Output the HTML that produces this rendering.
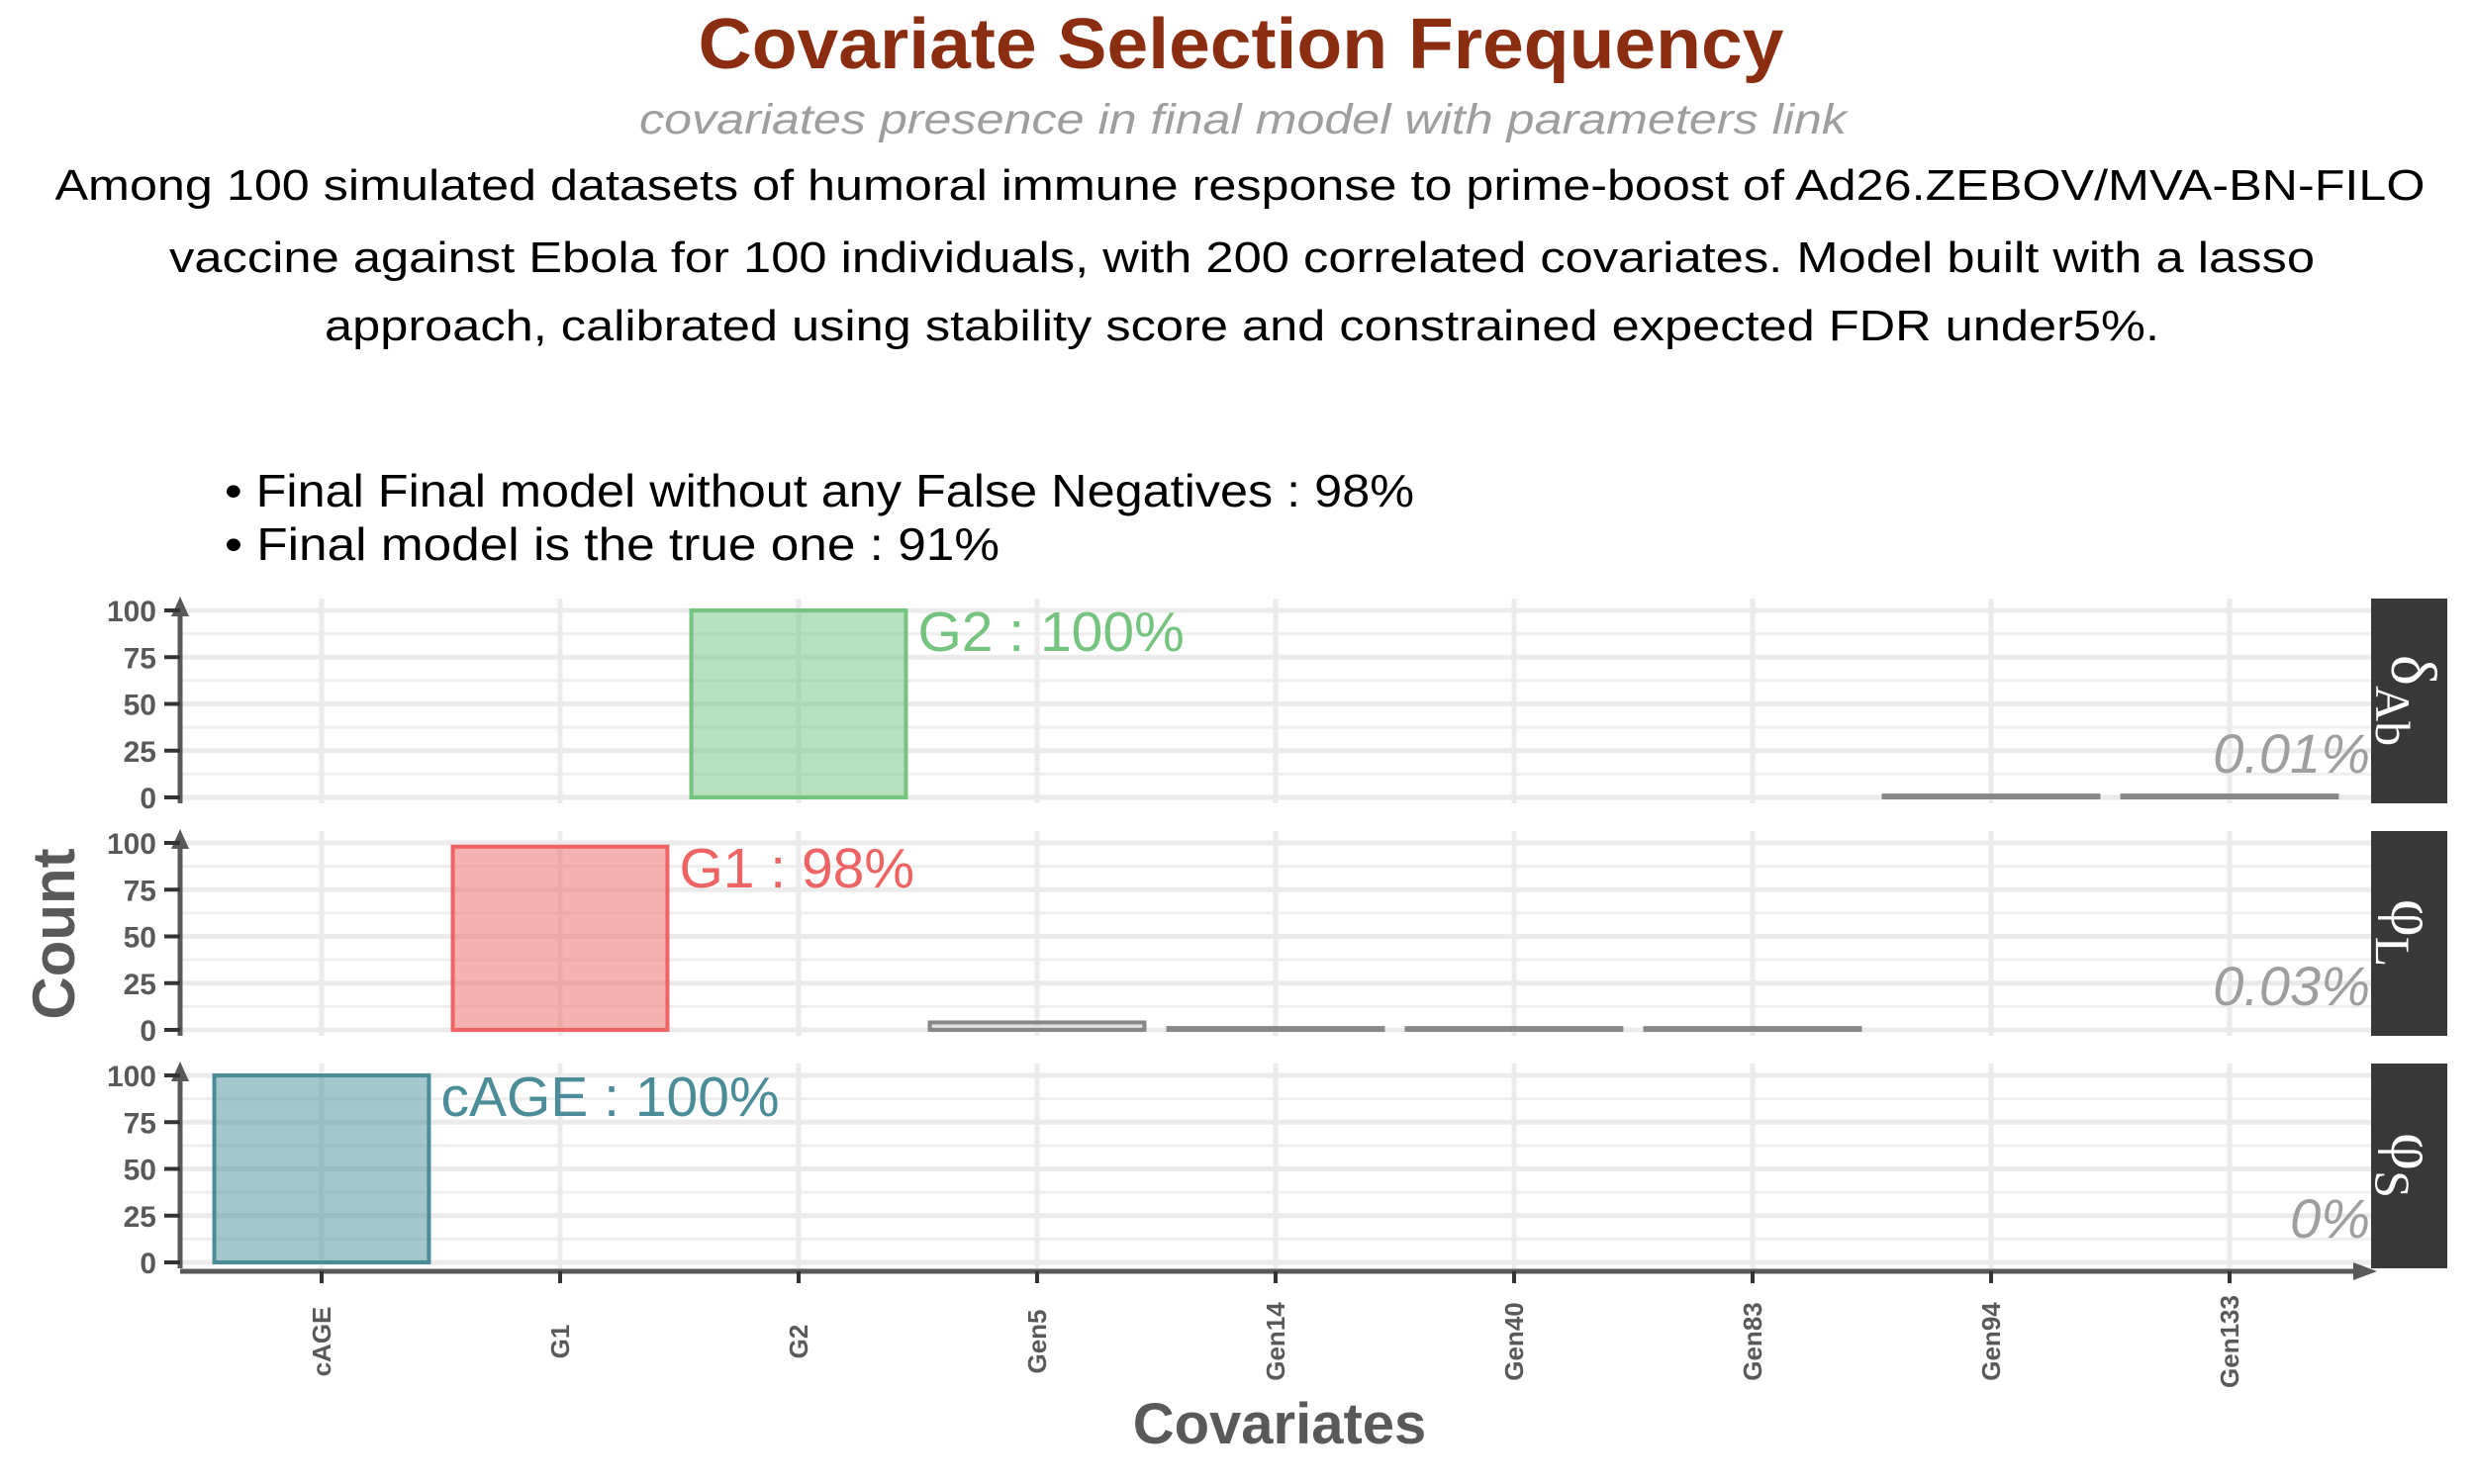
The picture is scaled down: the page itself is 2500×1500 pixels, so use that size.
<!DOCTYPE html>
<html><head><meta charset="utf-8"><style>
html,body{margin:0;padding:0;background:#fff;}
svg{display:block;}
</style></head><body>
<svg id="chart" width="2500" height="1500" viewBox="0 0 2500 1500" xmlns="http://www.w3.org/2000/svg" font-family="'Liberation Sans', Arial, sans-serif">
<rect width="2500" height="1500" fill="#fff"/>
<text x="1254" y="69" text-anchor="middle" font-size="72" font-weight="bold" fill="#8b2d10" textLength="1097" lengthAdjust="spacingAndGlyphs">Covariate Selection Frequency</text>
<text x="1256" y="135" text-anchor="middle" font-size="43" font-style="italic" fill="#9e9e9e" textLength="1220" lengthAdjust="spacingAndGlyphs">covariates presence in final model with parameters link</text>
<g font-size="44" fill="#000" text-anchor="middle">
<text x="1253" y="202" textLength="2395" lengthAdjust="spacingAndGlyphs">Among 100 simulated datasets of humoral immune response to prime-boost of Ad26.ZEBOV/MVA-BN-FILO</text>
<text x="1255" y="275" textLength="2168" lengthAdjust="spacingAndGlyphs">vaccine against Ebola for 100 individuals, with 200 correlated covariates. Model built with a lasso</text>
<text x="1255" y="344" textLength="1854" lengthAdjust="spacingAndGlyphs">approach, calibrated using stability score and constrained expected FDR under5%.</text>
</g>
<g font-size="46" fill="#000">
<text x="227" y="512" textLength="1202" lengthAdjust="spacingAndGlyphs">• Final Final model without any False Negatives : 98%</text>
<text x="227" y="566" textLength="783" lengthAdjust="spacingAndGlyphs">• Final model is the true one  : 91%</text>
</g>
<g id="plot"></g>
<text transform="translate(75,944) rotate(-90)" text-anchor="middle" font-size="60" font-weight="bold" fill="#595959">Count</text>
<text x="1293" y="1459" text-anchor="middle" font-size="58" font-weight="bold" fill="#595959">Covariates</text>
</svg>
<script>
const categories = ["cAGE","G1","G2","Gen5","Gen14","Gen40","Gen83","Gen94","Gen133"];
const panelNames = ["δAb","φL","φS"];
const panelSymbols = ["δ","φ","φ"];
const panelSubs = ["Ab","L","S"];
const valuesDeltaAb = [0,0,100,0,0,0,0,1,1];
const valuesPhiL = [0,98,0,4,1,1,1,0,0];
const valuesPhiS = [100,0,0,0,0,0,0,0,0];
const panelValues = [valuesDeltaAb, valuesPhiL, valuesPhiS];
const highlightLabels = ["G2 : 100%","G1 : 98%","cAGE : 100%"];
const highlightIndex = [2,1,0];
const otherLabels = ["0.01%","0.03%","0%"];
const yTicks = [0,25,50,75,100];
const yMinor = [12.5,37.5,62.5,87.5];

const NS = "http://www.w3.org/2000/svg";
const plot = document.getElementById('plot');
const X0 = 182, XR = 2398, CAT0 = 325, STEP = 241;
const panelTops = [605, 840, 1075];
const colors = [
  {stroke:"#74c47f", fill:"#74c47f"},
  {stroke:"#ee6363", fill:"#ee6363"},
  {stroke:"#4a8d99", fill:"#4a8d99"}
];
function xPos(i){ return CAT0 + i*STEP; }
function mk(tag, attrs, parent){
  const e = document.createElementNS(NS, tag);
  for (const k in attrs) e.setAttribute(k, attrs[k]);
  (parent||plot).appendChild(e);
  return e;
}
panelValues.forEach((vals, p) => {
  const top = panelTops[p];
  const y = v => top + 201 - v*1.89;
  const g = mk('g', {});
  
  
  yMinor.forEach(t => mk('line', {x1:X0, x2:XR, y1:y(t), y2:y(t), stroke:'#efefef', 'stroke-width':3}, g));
  yTicks.forEach(t => {
    const l = mk('line', {x1:X0, x2:XR, y1:y(t), y2:y(t), stroke:'#ebebeb', 'stroke-width':5}, g);
    
    
  });
  categories.forEach((c,i) => mk('line', {x1:xPos(i), x2:xPos(i), y1:top, y2:top+207, stroke:'#ebebeb', 'stroke-width':5}, g));
  vals.forEach((v,i) => {
    if (v <= 0) return;
    const isHi = highlightIndex[p] === i;
    const bw = STEP*0.9;
    const col = isHi ? colors[p] : {stroke:'#888888', fill:'#cccccc'};
    const r = mk('rect', {x:xPos(i)-bw/2, y:y(v), width:bw, height:y(0)-y(v), fill:col.fill, 'fill-opacity':isHi?0.5:0.6, stroke:col.stroke, 'stroke-width':4}, g);
    
    
  });
  const hi = highlightIndex[p];
  const lt = mk('text', {x:xPos(hi)+STEP*0.45+12, y:y(vals[hi]) + 41, 'font-size':57, fill:colors[p].stroke}, g);
  lt.textContent = highlightLabels[p];
  
  
  const ot = mk('text', {x:2395, y:top+176, 'font-size':56, 'font-style':'italic', fill:'#9e9e9e', 'text-anchor':'end'}, g);
  ot.textContent = otherLabels[p];
  
  
  mk('line', {x1:X0, x2:X0, y1:top+8, y2:top+207, stroke:'#595959', 'stroke-width':5}, g);
  mk('path', {d:`M${X0-9},${top+18} L${X0},${top-2} L${X0+9},${top+18} Z`, fill:'#595959'}, g);
  yTicks.forEach(t => {
    mk('line', {x1:X0-16, x2:X0, y1:y(t), y2:y(t), stroke:'#333', 'stroke-width':4}, g);
    const tl = mk('text', {x:X0-24, y:y(t)+11, 'font-size':30, 'font-weight':'bold', fill:'#595959', 'text-anchor':'end'}, g);
    tl.textContent = t;
    
    
  });
  const s = mk('rect', {x:2396, y:top, width:77, height:207, fill:'#383838'}, g);
  
  
  const st = mk('text', {transform:`translate(2417,${top+103}) rotate(90)`, 'text-anchor':'middle', 'font-size':66, fill:'#fff', 'font-family':"'Liberation Serif', serif"}, g);
  const t1 = mk('tspan', {}, st); t1.textContent = panelSymbols[p];
  const t2 = mk('tspan', {'font-size':50, dy:16}, st); t2.textContent = panelSubs[p];
  
  
  if (p === 2) {
    mk('line', {x1:X0, x2:XR-10, y1:top+210, y2:top+210, stroke:'#595959', 'stroke-width':5}, g);
    mk('path', {d:`M${XR-20},${top+201} L${XR+4},${top+210} L${XR-20},${top+219} Z`, fill:'#595959'}, g);
    categories.forEach((c,i) => {
      mk('line', {x1:xPos(i), x2:xPos(i), y1:top+210, y2:top+222, stroke:'#333', 'stroke-width':4}, g);
      const xl = mk('text', {transform:`translate(${xPos(i)+9},1356) rotate(-90)`, 'text-anchor':'middle', 'font-size':26, 'font-weight':'bold', fill:'#595959'}, g);
      xl.textContent = c;
      
      
    });
  }
});
</script>
</body></html>
